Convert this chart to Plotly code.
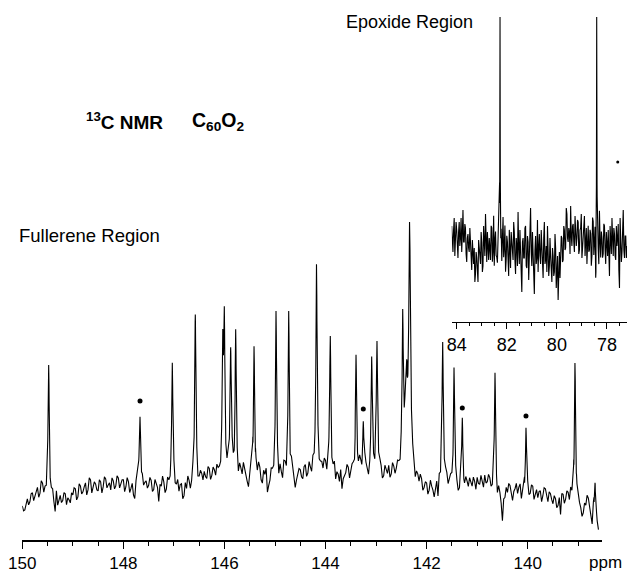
import numpy as np
import plotly.graph_objects as go

# ---------------- data ----------------
# Fullerene region: baseline (with noise) sampled every 0.05 ppm from 150.00 ppm
main_start_ppm = 150.0
main_step_ppm = 0.05
main_baseline = [
    34, 30, 41, 38, 47, 44, 52, 46, 55, 49,
    50, 38, 47, 27, 34, 44, 39, 46, 42, 37,
    45, 51, 43, 54, 48, 57, 50, 60, 52, 56,
    49, 58, 53, 61, 55, 50, 59, 54, 62, 56,
    60, 53, 58, 51, 44, 57, 61, 55, 52, 58,
    54, 59, 50, 56, 38, 53, 57, 49, 55, 58,
    60, 52, 47, 55, 43, 50, 57, 53, 59, 62,
    58, 64, 67, 60, 70, 63, 68, 72, 65, 66,
    70, 64, 68, 73, 59, 66, 71, 63, 68, 56,
    62, 67, 58, 63, 70, 55, 64, 46, 57, 65,
    61, 66, 70, 58, 72, 64, 57, 68, 50, 63,
    69, 60, 74, 65, 70, 77, 73, 79, 72, 68,
    75, 70, 62, 67, 58, 64, 69, 60, 66, 71,
    65, 70, 74, 68, 72, 62, 71, 58, 69, 67,
    73, 64, 69, 61, 67, 72, 63, 70, 66, 68,
    70, 66, 74, 68, 63, 57, 61, 54, 58, 50,
    55, 48, 52, 41, 56, 60, 65, 58, 62, 57,
    55, 60, 52, 46, 54, 50, 57, 61, 53, 58,
    62, 55, 59, 64, 57, 60, 48, 52, 38, 45,
    18, 42, 47, 54, 39, 51, 46, 55, 48, 44,
    50, 45, 53, 47, 42, 49, 44, 51, 38, 46,
    36, 41, 34, 25, 45, 40, 46, 49, 43, 35,
    38, 30, 26, 34, 41, 28, 33, 22, 9,
]
# values read halfway between the samples above (149.975, 149.925, ...)
main_baseline_mid = [
    29, 37, 35, 46, 39, 50, 42, 58, 45, 44,
    42, 44, 36, 48, 39, 37, 47, 35, 40, 47,
    52, 40, 56, 46, 53, 45, 62, 47, 58, 50,
    60, 47, 63, 52, 57, 62, 51, 64, 52, 60,
    48, 62, 47, 56, 40, 64, 50, 60, 56, 51,
    62, 48, 60, 52, 55, 63, 46, 60, 52, 55,
    50, 58, 54, 40, 56, 62, 48, 64, 55, 52,
    66, 58, 62, 72, 59, 71, 62, 67, 60, 72,
    62, 74, 60, 66, 72, 58, 68, 75, 61, 50,
    72, 54, 66, 74, 58, 68, 70, 52, 68, 60,
    70, 56, 64, 75, 60, 70, 73, 62, 58, 70,
    62, 72, 62, 76, 64, 70, 80, 68, 74, 78,
    64, 72, 58, 74, 66, 57, 50, 64, 74, 60,
    72, 60, 66, 78, 63, 75, 66, 64, 74, 62,
    60, 72, 58, 72, 64, 60, 74, 62, 72, 62,
    62, 72, 60, 58, 66, 52, 60, 62, 47, 56,
    44, 58, 48, 50, 40, 54, 60, 64, 52, 60,
    50, 56, 44, 58, 48, 60, 52, 56, 62, 50,
    56, 64, 52, 56, 64, 50, 56, 44, 50, 35,
    40, 52, 56, 44, 48, 56, 52, 40, 52, 50,
    42, 54, 40, 50, 48, 38, 52, 45, 48, 40,
    44, 32, 42, 46, 36, 48, 38, 42, 30, 40,
    34, 22, 36, 44, 32, 14, 26, 16,
]
main_peak_ppm = [149.478, 147.671, 147.032, 146.577, 146.035, 146.003, 145.877,
                 145.778, 145.415, 144.980, 144.729, 144.179, 143.906, 143.397,
                 143.253, 143.087, 142.982, 142.473, 142.400, 142.335, 141.682,
                 141.458, 141.294, 140.647, 140.034, 139.065, 138.668]
main_peak_height = [133, 73, 122, 170, 114, 143, 127,
                    135, 139, 158, 158, 195, 141, 110,
                    54, 106, 136, 149, 80, 234, 137,
                    111, 67, 115, 62, 147, 31]
main_peak_hwhm = [0.014] * 18 + [0.035, 0.02] + [0.014] * 7
# marked peaks (dots)
dot_ppm = [147.671, 143.253, 141.294, 140.034]
dot_level = [139, 131, 132, 124]
main_tick_vals = [150, 148, 146, 144, 142, 140]

# Epoxide region (inset): baseline sampled every 0.05 ppm from 84.20 ppm
inset_start_ppm = 84.2
inset_step_ppm = 0.05
inset_baseline = [
    96, 70, 104, 78, 92, 64, 100, 84, 70, 112,
    80, 94, 60, 88, 70, 82, 52, 66, 74, 48,
    64, 40, 76, 58, 80, 56, 72, 108, 60, 74,
    84, 62, 94, 70, 56, 90, 64, 82, 100, 68,
    58, 104, 74, 50, 86, 64, 92, 54, 80, 62,
    90, 48, 76, 110, 58, 72, 30, 84, 64, 96,
    54, 80, 62, 114, 56, 72, 28, 86, 64, 50,
    88, 58, 72, 44, 100, 62, 50, 78, 56, 66,
    40, 66, 50, 74, 54, 22, 70, 58, 84, 62,
    92, 74, 108, 80, 90, 116, 76, 98, 70, 94,
    84, 100, 72, 94, 64, 88, 106, 78, 58, 96,
    72, 88, 66, 100, 80, 36, 90, 70, 110, 64,
    84, 68, 96, 58, 78, 92, 46, 82, 104, 66,
    88, 62, 76, 98, 34, 80, 70, 112, 64, 86,
    76,
]
inset_baseline_mid = [
    74, 92, 66, 100, 72, 90, 76, 104, 88, 80,
    98, 68, 84, 74, 94, 60, 82, 58, 40, 70,
    52, 82, 68, 90, 50, 96, 66, 74, 90, 62,
    68, 96, 60, 106, 82, 66, 58, 92, 66, 86,
    88, 64, 96, 62, 80, 46, 76, 90, 66, 100,
    62, 84, 56, 74, 92, 50, 80, 64, 94, 56,
    86, 42, 98, 70, 90, 48, 72, 58, 102, 74,
    66, 92, 50, 84, 58, 76, 96, 46, 84, 48,
    74, 46, 88, 34, 66, 58, 44, 86, 60, 96,
    72, 114, 84, 94, 68, 86, 96, 80, 106, 76,
    102, 68, 92, 108, 74, 98, 66, 94, 82, 70,
    92, 56, 104, 66, 92, 70, 100, 56, 80, 90,
    64, 98, 72, 90, 66, 56, 96, 68, 78, 94,
    66, 96, 84, 52, 104, 60, 92, 72, 86, 64,
]
inset_peak_ppm = [82.27, 78.41]
inset_peak_height = [239, 215]
inset_peak_hwhm = [0.008, 0.008]
inset_speck_ppm = [77.57]
inset_speck_level = [160]
inset_tick_vals = [84, 82, 80, 78]


def interleave(a, b):
    out = np.empty(len(a) + len(b), float)
    out[0::2] = a
    out[1::2] = b
    return out


def build_trace(start, step, base, pk_ppm, pk_h, pk_w):
    base = np.asarray(base, float)
    n = len(base)
    grid = start - step * np.arange(n)
    fine = [p + d for p in pk_ppm for d in np.arange(-0.03, 0.0301, 0.003)]
    x = np.unique(np.concatenate([grid, np.asarray(fine)]))[::-1]
    x = x[(x <= grid[0]) & (x >= grid[-1])]
    idx = np.clip(np.rint((start - x) / step), 0, n - 1).astype(int)
    y = base[idx].copy()
    for p, h, w in zip(pk_ppm, pk_h, pk_w):
        y += h / (1.0 + ((x - p) / w) ** 2)
    return x, y


mx, my = build_trace(main_start_ppm, main_step_ppm / 2,
                     interleave(main_baseline, main_baseline_mid),
                     main_peak_ppm, main_peak_height, main_peak_hwhm)
ix, iy = build_trace(inset_start_ppm, inset_step_ppm / 2,
                     interleave(inset_baseline, inset_baseline_mid),
                     inset_peak_ppm, inset_peak_height, inset_peak_hwhm)

W, H = 627, 573
B = 33
PH = H - B  # paper height in px
FONT = "Liberation Sans, Arial, Helvetica, sans-serif"

fig = go.Figure()
fig.add_trace(go.Scatter(x=mx, y=my, mode="lines",
                         line=dict(color="black", width=1.1), hoverinfo="skip",
                         xaxis="x", yaxis="y", showlegend=False))
fig.add_trace(go.Scatter(x=dot_ppm, y=dot_level, mode="markers",
                         marker=dict(color="black", size=5), xaxis="x", yaxis="y",
                         showlegend=False))
fig.add_trace(go.Scatter(x=ix, y=iy, mode="lines",
                         line=dict(color="black", width=1.1), hoverinfo="skip",
                         xaxis="x2", yaxis="y2", showlegend=False))
fig.add_trace(go.Scatter(x=inset_speck_ppm, y=inset_speck_level, mode="markers",
                         marker=dict(color="black", size=3), xaxis="x2", yaxis="y2",
                         showlegend=False))

px_per_ppm = 50.54
x0_px, x1_px = 22.3, 602.0
main_range = [150.0, 150.0 - (x1_px - x0_px) / px_per_ppm]

fig.update_layout(
    width=W, height=H,
    margin=dict(l=0, r=0, t=0, b=B, pad=0),
    paper_bgcolor="white", plot_bgcolor="white",
    font=dict(family=FONT, color="black"),
    xaxis=dict(domain=[x0_px / W, x1_px / W], range=main_range,
               showgrid=False, zeroline=False, showline=True,
               linecolor="black", linewidth=1.5,
               ticks="outside", ticklen=7, tickwidth=1.2, tickcolor="black",
               tickvals=main_tick_vals, ticktext=[str(v) for v in main_tick_vals],
               tickfont=dict(size=17, family=FONT),
               minor=dict(dtick=0.5, tick0=150, ticks="outside", ticklen=4,
                          tickwidth=1, tickcolor="black", showgrid=False),
               automargin=False, fixedrange=True),
    yaxis=dict(domain=[0, 1], range=[0, PH], visible=False, fixedrange=True),
    xaxis2=dict(domain=[451.7 / W, 1.0], range=[84.2, 77.2], anchor="y2",
                showgrid=False, zeroline=False, showline=True,
                linecolor="black", linewidth=1.3,
                ticks="outside", ticklen=6, tickwidth=1.2, tickcolor="black",
                tickvals=inset_tick_vals, ticktext=[str(v) for v in inset_tick_vals],
                tickfont=dict(size=18, family=FONT),
                minor=dict(dtick=0.5, tick0=84, ticks="outside", ticklen=3,
                           tickwidth=1, tickcolor="black", showgrid=False),
                automargin=False, fixedrange=True),
    yaxis2=dict(domain=[(PH - 322) / PH, 1.0], range=[0, 322], anchor="x2",
                visible=False, fixedrange=True),
)


def py(ypx):
    return (PH - ypx) / PH


ann = [
    dict(text="Epoxide Region", x=475 / W, y=py(22), xanchor="right", size=18, bold=False),
    dict(text="Fullerene Region", x=17 / W, y=py(236), xanchor="left", size=18.5, bold=False),
    dict(text="<sup>13</sup>C NMR", x=84 / W, y=py(121), xanchor="left", size=19, bold=True),
    dict(text="C<sub>60</sub>O<sub>2</sub>", x=190 / W, y=py(121), xanchor="left", size=19.5, bold=True),
    dict(text="ppm", x=587 / W, y=py(562), xanchor="left", size=17, bold=False),
]
for a in ann:
    fig.add_annotation(text=a["text"], x=a["x"], y=a["y"], xref="paper", yref="paper",
                       xanchor=a["xanchor"], yanchor="middle", showarrow=False,
                       font=dict(size=a["size"], family=FONT, color="black",
                                 weight="bold" if a["bold"] else "normal"))

fig.write_html("out.html", config={"displayModeBar": False},
               post_script="document.body.style.margin='0';document.body.style.overflow='hidden';")
